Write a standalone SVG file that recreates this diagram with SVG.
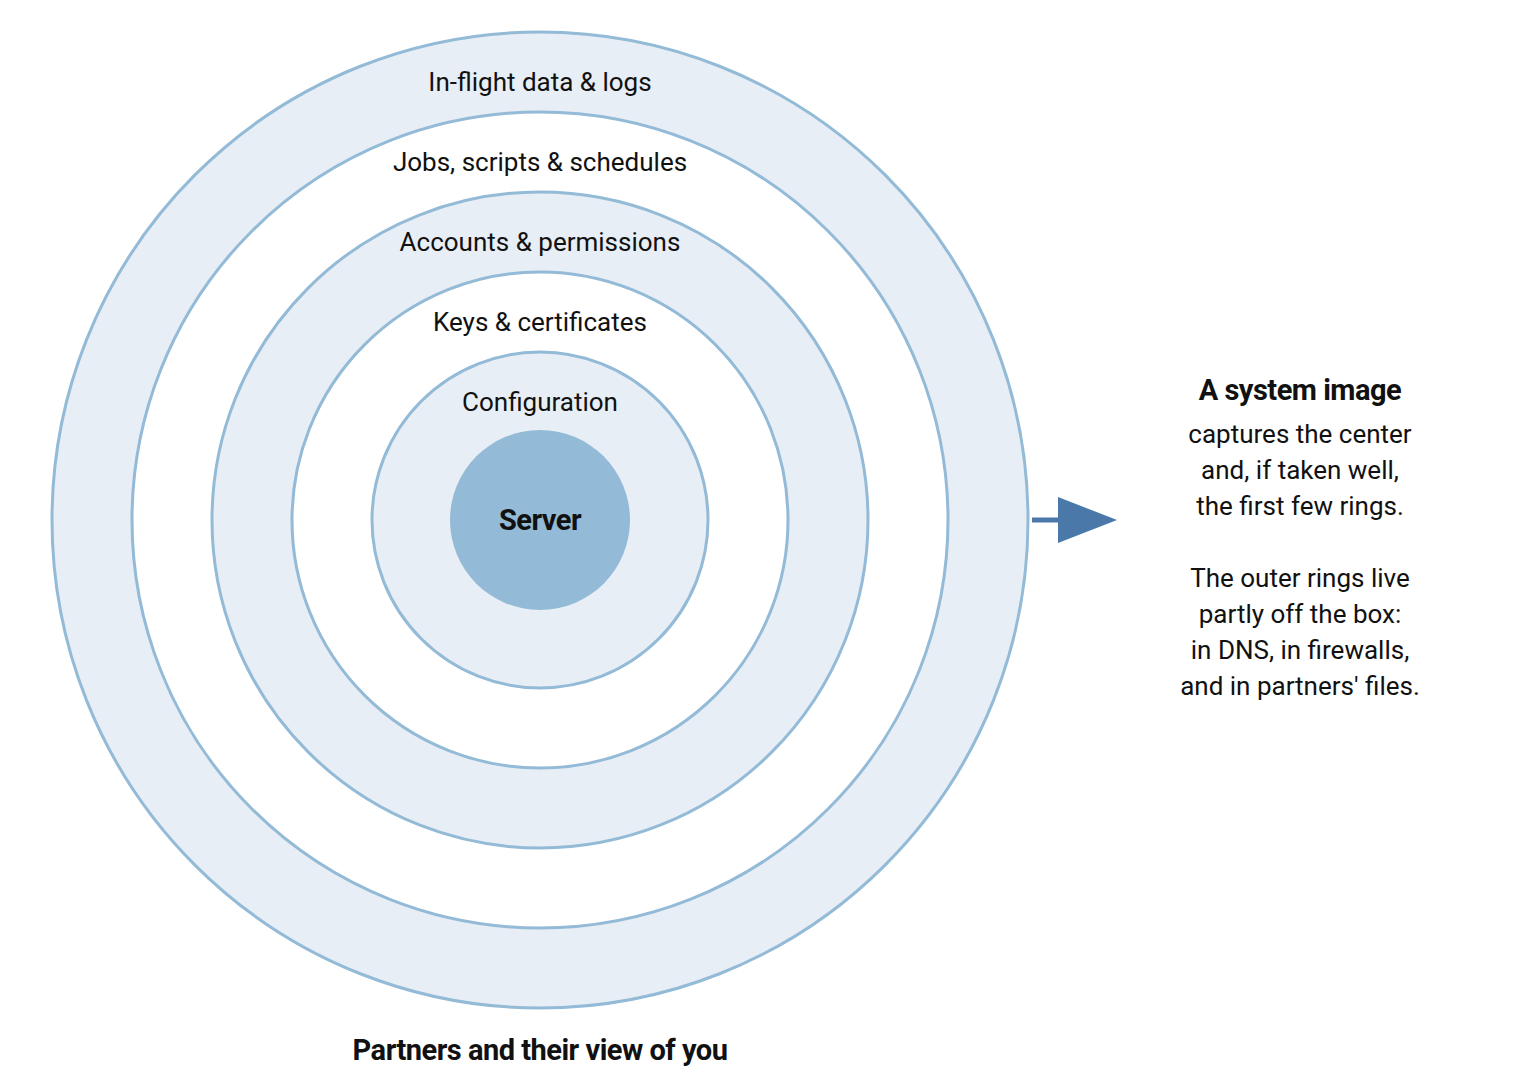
<svg xmlns="http://www.w3.org/2000/svg" width="1520" height="1080" viewBox="0 0 1520 1080">
<style>
.r{stroke:#93bad6;stroke-width:3}
.a{fill:#e8eef5}.w{fill:#ffffff}
text{font-family:Roboto,"Liberation Sans",sans-serif;font-size:26px;fill:#111;text-anchor:middle}
.b{font-weight:bold;font-size:29px;letter-spacing:-0.5px}
</style>
<rect width="1520" height="1080" fill="#fff"/>
<g id="ring-logs"><circle class="r a" cx="540" cy="520" r="488"/><text x="540" y="91">In-flight data &amp; logs</text></g>
<g id="ring-jobs"><circle class="r w" cx="540" cy="520" r="408"/><text x="540" y="171">Jobs, scripts &amp; schedules</text></g>
<g id="ring-accounts"><circle class="r a" cx="540" cy="520" r="328"/><text x="540" y="251">Accounts &amp; permissions</text></g>
<g id="ring-keys"><circle class="r w" cx="540" cy="520" r="248"/><text x="540" y="331">Keys &amp; certificates</text></g>
<g id="ring-config"><circle class="r a" cx="540" cy="520" r="168"/><text x="540" y="411">Configuration</text></g>
<g id="server"><circle cx="540" cy="520" r="90" fill="#93bad6"/><text class="b" x="540" y="530">Server</text></g>
<g id="partners"><text class="b" x="540" y="1060">Partners and their view of you</text></g>
<g id="connectors"><line x1="1032" y1="520" x2="1062" y2="520" stroke="#4a78a8" stroke-width="5"/><polygon points="1058,497 1117,520 1058,543" fill="#4a78a8"/></g>
<g id="note">
<text class="b" x="1300" y="400">A system image</text>
<text x="1300" y="443">captures the center</text>
<text x="1300" y="479">and, if taken well,</text>
<text x="1300" y="515">the first few rings.</text>
<text x="1300" y="587">The outer rings live</text>
<text x="1300" y="623">partly off the box:</text>
<text x="1300" y="659">in DNS, in firewalls,</text>
<text x="1300" y="695">and in partners' files.</text>
</g>
</svg>
